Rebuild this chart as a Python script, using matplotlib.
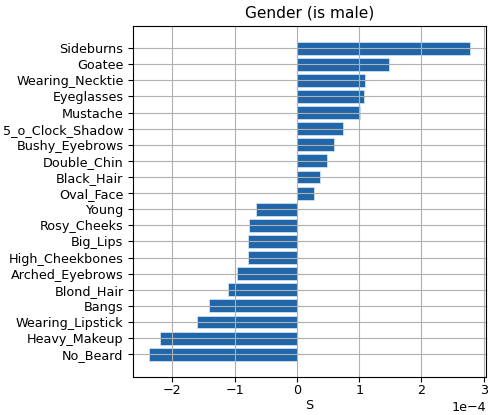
import matplotlib
matplotlib.use("Agg")
import matplotlib.pyplot as plt

plt.rcParams["font.size"] = 9.2
plt.rcParams["xtick.major.pad"] = 2

# Atributos ordenados de abajo hacia arriba
atributos = ["No_Beard", "Heavy_Makeup", "Wearing_Lipstick", "Bangs", "Blond_Hair",
             "Arched_Eyebrows", "High_Cheekbones", "Big_Lips", "Rosy_Cheeks", "Young",
             "Oval_Face", "Black_Hair", "Double_Chin", "Bushy_Eyebrows", "5_o_Clock_Shadow",
             "Mustache", "Eyeglasses", "Wearing_Necktie", "Goatee", "Sideburns"]

# Valores de S (escala 1e-4)
valores = [-2.37, -2.205, -1.60, -1.41, -1.11,
           -0.97, -0.78, -0.78, -0.77, -0.653,
           0.278, 0.374, 0.49, 0.60, 0.743,
           1.02, 1.075, 1.096, 1.476, 2.78]
valores = [v * 1e-4 for v in valores]

fig, ax = plt.subplots(figsize=(4.91, 4.15), dpi=100)
ax.barh(atributos, valores, color="#2066a8", edgecolor="#cfe0f0", linewidth=0.6)
ax.set_title("Gender (is male)")
ax.set_xlabel("S", labelpad=1)
ax.ticklabel_format(axis="x", style="sci", scilimits=(0, 0))
ax.grid(True)
fig.subplots_adjust(left=0.2715, right=0.990, bottom=0.0925, top=0.938)
fig.savefig("out.png")
